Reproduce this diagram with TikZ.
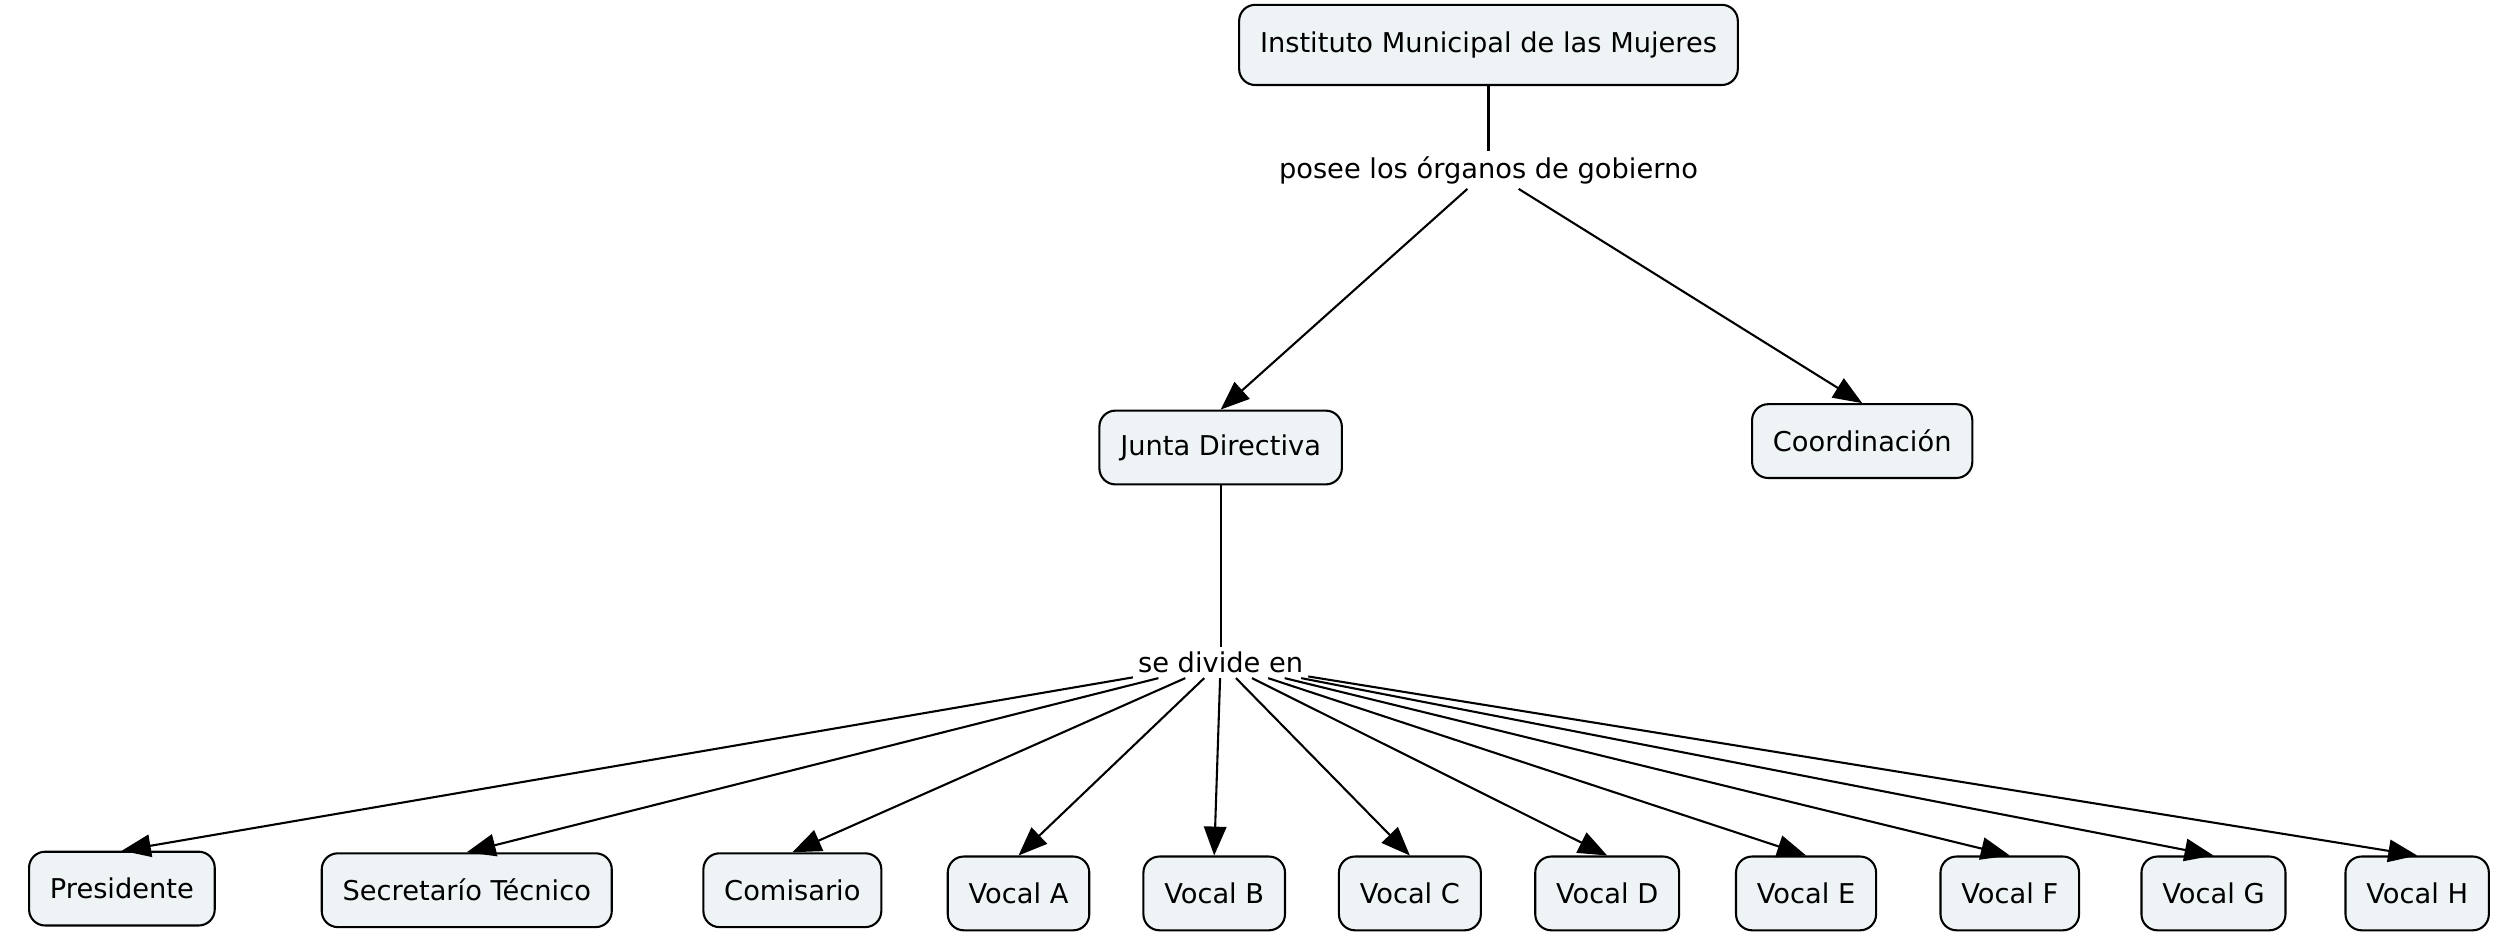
\documentclass[tikz,border=0pt]{standalone}
\usepackage{fontspec}
\setmainfont{DejaVu Sans}
\usetikzlibrary{arrows.meta}
\begin{document}
\begin{tikzpicture}[x=1pt,y=-1pt,
  box/.style={draw=black,line width=1.3pt,rounded corners=10pt,fill={rgb,255:red,238;green,244;blue,246},
    minimum height=46pt,inner xsep=13pt,font=\fontsize{17}{20}\selectfont},
  lbl/.style={fill=white,inner sep=3pt,font=\fontsize{17}{20}\selectfont},
  arr/.style={line width=1.3pt,-{Triangle[length=18pt,width=14pt]}},
  ln/.style={line width=1.3pt}]
\useasboundingbox (0,0) rectangle (1568,584);
\node[box,minimum height=50pt] (imm) at (928,28) {Instituto Municipal de las Mujeres};
\node[lbl] (posee) at (928,106) {posee los órganos de gobierno};
\node[box] (jd) at (761,279) {Junta Directiva};
\node[box] (co) at (1161,275) {Coordinación};
\node[lbl] (sd) at (761,413) {se divide en};
\node[box] (p) at (76,554) {Presidente};
\node[box] (st) at (291,555) {Secretarío Técnico};
\node[box] (cm) at (494,555) {Comisario};
\node[box] (va) at (635,557) {Vocal A};
\node[box] (vb) at (757,557) {Vocal B};
\node[box] (vc) at (879,557) {Vocal C};
\node[box] (vd) at (1002,557) {Vocal D};
\node[box] (ve) at (1126,557) {Vocal E};
\node[box] (vf) at (1253,557) {Vocal F};
\node[box] (vg) at (1380,557) {Vocal G};
\node[box] (vh) at (1507,557) {Vocal H};
\draw[ln] (imm) -- (posee);
\draw[arr] (posee) -- (jd.north);
\draw[arr] (posee) -- (co.north);
\draw[ln] (jd) -- (sd);
\foreach \n in {p,st,cm,va,vb,vc,vd,ve,vf,vg,vh}{\draw[arr] (sd) -- (\n.north);}
\end{tikzpicture}
\end{document}
